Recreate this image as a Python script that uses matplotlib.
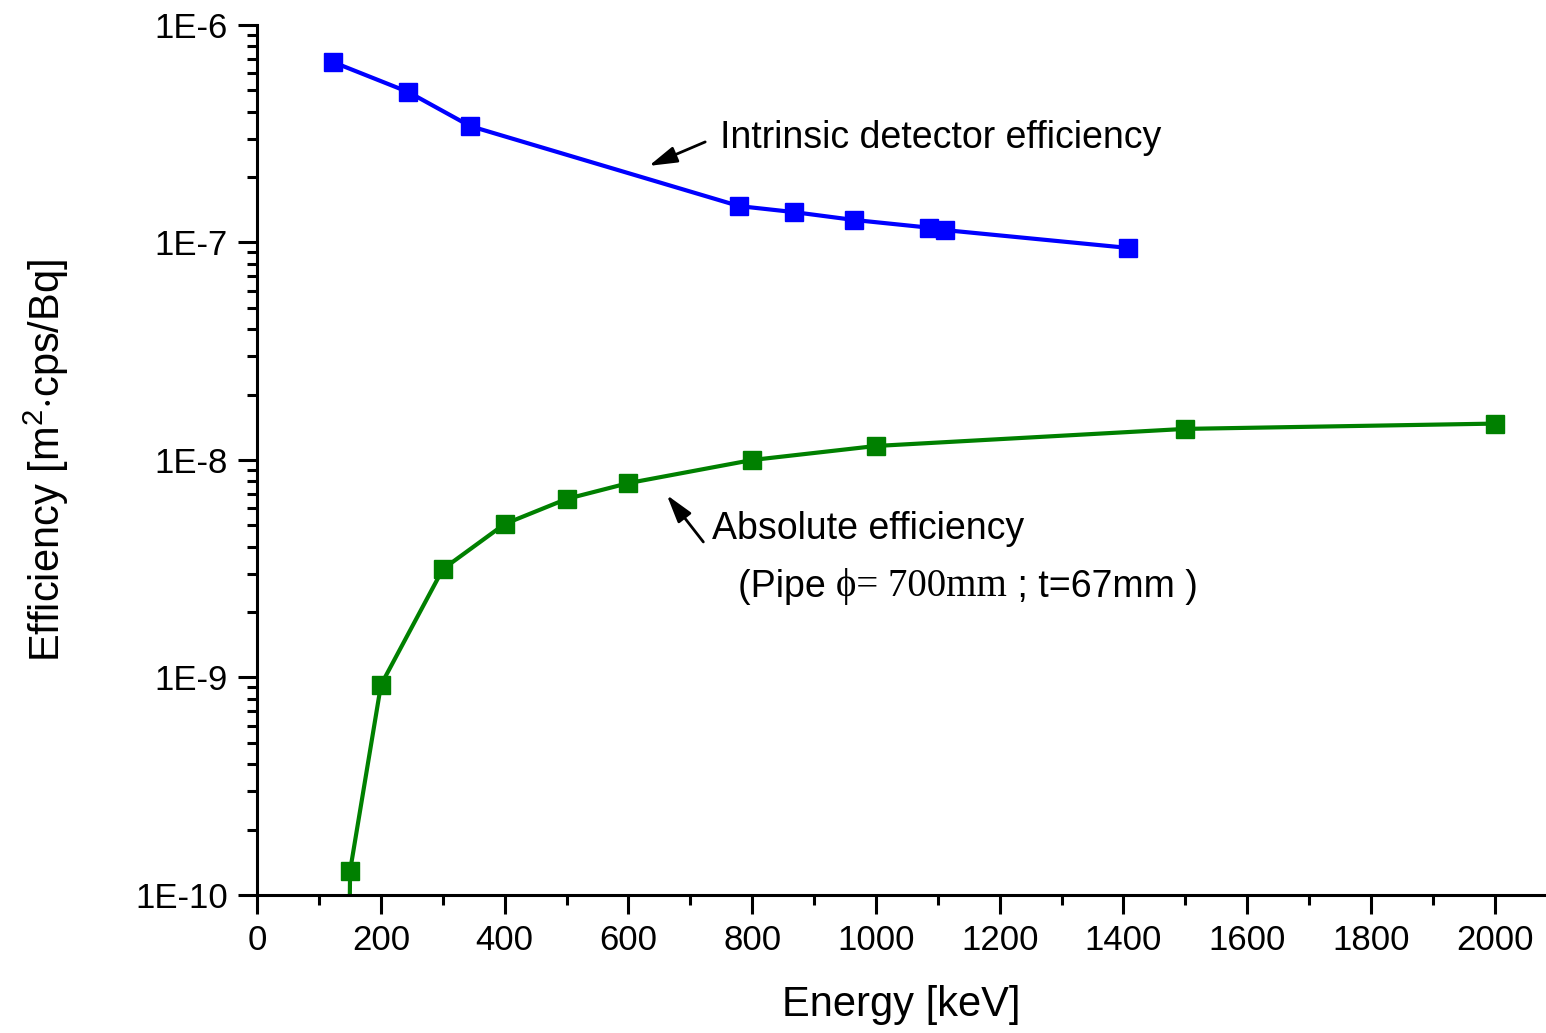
import matplotlib
matplotlib.use("Agg")
import matplotlib.pyplot as plt
from matplotlib.ticker import FixedLocator, LogLocator, MultipleLocator, NullFormatter

plt.rcParams['font.family'] = ['Liberation Sans', 'DejaVu Sans']
plt.rcParams['mathtext.fontset'] = 'custom'
plt.rcParams['mathtext.rm'] = 'Liberation Sans'
plt.rcParams['mathtext.it'] = 'Liberation Sans'

# Data
intrinsic_energy = [122, 244, 344, 779, 867, 964, 1086, 1112, 1408]
intrinsic_eff = [6.76e-7, 4.92e-7, 3.43e-7, 1.47e-7, 1.38e-7, 1.27e-7, 1.17e-7, 1.14e-7, 9.44e-8]

absolute_energy = [150, 200, 300, 400, 500, 600, 800, 1000, 1500, 2000]
absolute_eff = [1.29e-10, 9.25e-10, 3.15e-9, 5.08e-9, 6.62e-9, 7.83e-9, 1.0e-8, 1.16e-8, 1.39e-8, 1.47e-8]

y_ticks = [1e-10, 1e-9, 1e-8, 1e-7, 1e-6]
y_ticklabels = ["1E-10", "1E-9", "1E-8", "1E-7", "1E-6"]
x_ticks = [0, 200, 400, 600, 800, 1000, 1200, 1400, 1600, 1800, 2000]

fig = plt.figure(figsize=(15.46, 10.33), dpi=100)
ax = fig.add_axes([0.1664, 0.1336, 1.0 - 0.1664, 0.9758 - 0.1336])

ax.plot(intrinsic_energy, intrinsic_eff, color='#0000ff', lw=3, marker='s',
        ms=13, mfc='#0000ff', mec='#0000ff', clip_on=True)
ax.plot(absolute_energy, absolute_eff, color='#008000', lw=3, marker='s',
        ms=13, mfc='#008000', mec='#008000', clip_on=True)
# segment of the green curve continuing below the axis
ax.plot([absolute_energy[0], 148], [absolute_eff[0], 3e-11], color='#008000', lw=3)

ax.set_yscale('log')
ax.set_ylim(1e-10, 1e-6)
ax.set_xlim(0, 2083)

ax.yaxis.set_major_locator(FixedLocator(y_ticks))
ax.set_yticklabels(y_ticklabels)
ax.yaxis.set_minor_locator(LogLocator(base=10, subs=range(2, 10), numticks=20))
ax.yaxis.set_minor_formatter(NullFormatter())
ax.xaxis.set_major_locator(FixedLocator(x_ticks))
ax.xaxis.set_minor_locator(MultipleLocator(100))

for s in ['top', 'right']:
    ax.spines[s].set_visible(False)
for s in ['left', 'bottom']:
    ax.spines[s].set_linewidth(2.2)

ax.tick_params(which='major', direction='out', length=14, width=2.2, labelsize=25, pad=7)
ax.tick_params(which='minor', direction='out', length=7, width=2.2)

ax.set_xlabel('Energy [keV]', fontsize=30, labelpad=20)
ax.set_ylabel(r'Efficiency [m$^{2}$$\cdot$cps/Bq]', fontsize=30, labelpad=46)

fs = 27
aprops = dict(arrowstyle='-|>,head_length=1.7,head_width=0.5', color='black', lw=2,
              shrinkA=0, shrinkB=0)
ax.annotate('', xy=(633, 2.25e-7), xytext=(724, 2.9e-7), arrowprops=aprops)
ax.text(748, 3.02e-7, 'Intrinsic detector efficiency', fontsize=fs, va='center', ha='left')

ax.annotate('', xy=(662, 6.9e-9), xytext=(721, 4.2e-9), arrowprops=aprops)
ax.text(735, 4.82e-9, 'Absolute efficiency', fontsize=fs, va='center', ha='left')

t1 = ax.text(777, 2.72e-9, '(Pipe ', fontsize=fs, va='center_baseline', ha='left')
t2 = ax.annotate('\u03d5= 700mm', xy=(1, 0), xycoords=t1, fontsize=fs + 1, va='bottom', ha='left',
                 family=['Liberation Serif', 'DejaVu Serif'])
t3 = ax.annotate(' ; t=67mm )', xy=(1, 0), xycoords=t2, fontsize=fs, va='bottom', ha='left')

fig.savefig('out.png', dpi=100)
